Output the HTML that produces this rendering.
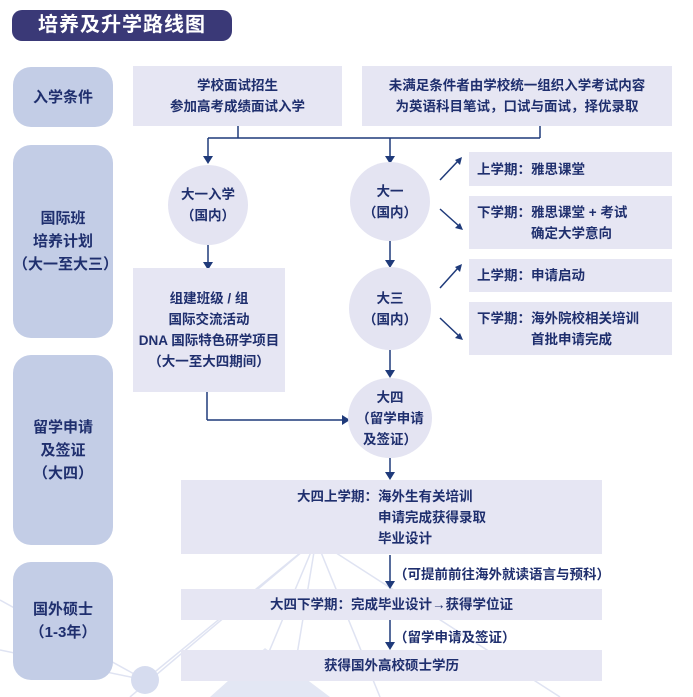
<!DOCTYPE html>
<html><head><meta charset="utf-8"><style>
body{margin:0;width:693px;height:697px;overflow:hidden;background:#fff;font-family:"Liberation Sans","Noto Sans CJK SC",sans-serif;font-weight:bold;color:#1f2f6e;position:relative}
.a{position:absolute;box-sizing:border-box}
.side{background:#c3cde6;border-radius:18px;left:13px;width:100px;display:flex;align-items:center;justify-content:center;text-align:center;font-size:15px;line-height:23px;color:#1f2f6e}
.box{background:#e6e6f3;display:flex;align-items:center;justify-content:center;text-align:center;font-size:13.5px;line-height:21px;color:#1f2f6e}
.lbox{background:#e6e6f3;font-size:13.5px;line-height:21px;padding-left:8px;display:flex;align-items:center}
.c{background:#e4e4f2;border-radius:50%;display:flex;align-items:center;justify-content:center;text-align:center;font-size:13.5px;line-height:21px}
</style></head><body>
<svg class="a" style="left:0;top:0" width="693" height="697">
<g stroke="#dfe3f2" stroke-width="1.5" fill="none">
<line x1="316" y1="540" x2="250" y2="697"/><line x1="316" y1="540" x2="290" y2="697"/><line x1="316" y1="540" x2="380" y2="697"/><line x1="316" y1="540" x2="560" y2="697"/><line x1="316" y1="540" x2="130" y2="697"/><line x1="0" y1="600" x2="145" y2="680"/><line x1="0" y1="650" x2="145" y2="680"/><line x1="145" y1="680" x2="316" y2="540"/>
</g>
<circle cx="316" cy="538" r="14" fill="#d6dcef"/><circle cx="145" cy="680" r="14" fill="#d6dcef"/>
<polygon points="265,648 210,697 330,697" fill="#e3e7f4"/>
<g stroke="#1f3a7a" stroke-width="1.5" fill="none">
<line x1="238" y1="126" x2="238" y2="138"/><line x1="540" y1="126" x2="540" y2="138"/>
<line x1="208" y1="138" x2="540" y2="138"/>
<line x1="208" y1="138" x2="208" y2="158"/><line x1="390" y1="138" x2="390" y2="158"/>
<line x1="208" y1="245" x2="208" y2="264"/>
<line x1="390" y1="241" x2="390" y2="262"/><line x1="390" y1="350" x2="390" y2="372"/>
<line x1="207" y1="392" x2="207" y2="420"/><line x1="207" y1="420" x2="344" y2="420"/>
<line x1="390" y1="458" x2="390" y2="474"/>
<line x1="390" y1="555" x2="390" y2="583"/><line x1="390" y1="620" x2="390" y2="644"/>
<line x1="440" y1="180" x2="458" y2="161"/><line x1="440" y1="209" x2="459" y2="226"/>
<line x1="440" y1="288" x2="458" y2="268"/><line x1="440" y1="318" x2="459" y2="336"/>
</g>
<g fill="#1f3a7a">
<polygon points="203,156 213,156 208,164"/><polygon points="385,156 395,156 390,164"/>
<polygon points="203,262 213,262 208,270"/><polygon points="385,260 395,260 390,268"/>
<polygon points="385,370 395,370 390,378"/><polygon points="342,415 342,425 350,420"/>
<polygon points="385,472 395,472 390,480"/><polygon points="385,581 395,581 390,589"/><polygon points="385,642 395,642 390,650"/>
<polygon points="462,157 455,160 460,165"/><polygon points="463,230 455,228 460,223"/>
<polygon points="462,264 455,267 460,272"/><polygon points="463,340 455,338 460,333"/>
</g>
</svg>
<div class="a" style="left:12px;top:10px;width:220px;height:31px;background:#3a3977;border-radius:10px;color:#fff;font-size:20px;line-height:31px;text-align:center;letter-spacing:1px">培养及升学路线图</div>
<div class="a side" style="top:67px;height:60px">入学条件</div>
<div class="a side" style="top:145px;height:193px">国际班<br>培养计划<br>（大一至大三）</div>
<div class="a side" style="top:355px;height:190px">留学申请<br>及签证<br>（大四）</div>
<div class="a side" style="top:562px;height:118px">国外硕士<br>（1-3年）</div>
<div class="a box" style="left:133px;top:66px;width:209px;height:60px">学校面试招生<br>参加高考成绩面试入学</div>
<div class="a box" style="left:362px;top:66px;width:310px;height:60px">未满足条件者由学校统一组织入学考试内容<br>为英语科目笔试，口试与面试，择优录取</div>
<div class="a c" style="left:168px;top:165px;width:80px;height:80px">大一入学<br>（国内）</div>
<div class="a c" style="left:350px;top:162px;width:80px;height:79px">大一<br>（国内）</div>
<div class="a c" style="left:349px;top:267px;width:82px;height:83px">大三<br>（国内）</div>
<div class="a c" style="left:348px;top:378px;width:84px;height:80px">大四<br>（留学申请<br>及签证）</div>
<div class="a box" style="left:133px;top:268px;width:152px;height:124px">组建班级 / 组<br>国际交流活动<br>DNA 国际特色研学项目<br>（大一至大四期间）</div>
<div class="a lbox" style="left:469px;top:152px;width:203px;height:34px">上学期：雅思课堂</div>
<div class="a lbox" style="left:469px;top:196px;width:203px;height:53px">下学期：雅思课堂 + 考试<br>　　　　确定大学意向</div>
<div class="a lbox" style="left:469px;top:259px;width:203px;height:33px">上学期：申请启动</div>
<div class="a lbox" style="left:469px;top:302px;width:203px;height:53px">下学期：海外院校相关培训<br>　　　　首批申请完成</div>
<div class="a box" style="left:181px;top:480px;width:421px;height:74px"><div style="text-align:left">大四上学期：海外生有关培训<br>　　　　　　申请完成获得录取<br>　　　　　　毕业设计</div></div>
<div class="a box" style="left:181px;top:589px;width:421px;height:31px">大四下学期：完成毕业设计→获得学位证</div>
<div class="a box" style="left:181px;top:650px;width:421px;height:31px">获得国外高校硕士学历</div>
<div class="a" style="left:394px;top:563px;font-size:13.5px">（可提前前往海外就读语言与预科）</div>
<div class="a" style="left:394px;top:626px;font-size:13.5px">（留学申请及签证）</div>
</body></html>
